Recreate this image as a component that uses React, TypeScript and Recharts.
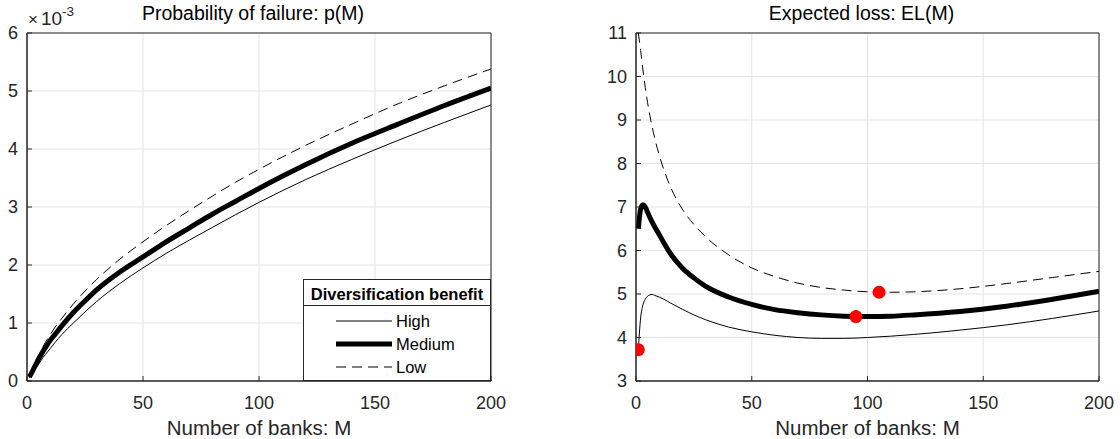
import React from "react";
import {
  CartesianGrid,
  ComposedChart,
  Label,
  Legend,
  Line,
  ReferenceArea,
  Scatter,
  XAxis,
  YAxis,
} from "recharts";

// number of banks M (shared grid for all series)
const banks = [1, 2, 3, 4, 5, 6, 7, 8, 10, 12, 15, 20, 25, 30, 40, 50, 60, 70, 80, 90, 100, 110, 120, 140, 160, 180, 200];

// p(M), in units of 1e-3
const pHigh = [0.05, 0.11, 0.17, 0.23, 0.29, 0.35, 0.41, 0.46, 0.56, 0.66, 0.8, 1.0, 1.19, 1.37, 1.68, 1.95, 2.2, 2.43, 2.65, 2.87, 3.08, 3.28, 3.47, 3.82, 4.15, 4.46, 4.76];
const pMedium = [0.07, 0.14, 0.22, 0.3, 0.38, 0.45, 0.52, 0.58, 0.7, 0.8, 0.95, 1.18, 1.38, 1.57, 1.88, 2.14, 2.4, 2.64, 2.88, 3.1, 3.32, 3.53, 3.73, 4.1, 4.43, 4.75, 5.05];
const pLow = [0.08, 0.17, 0.26, 0.35, 0.44, 0.52, 0.6, 0.67, 0.8, 0.92, 1.08, 1.33, 1.55, 1.75, 2.1, 2.4, 2.68, 2.94, 3.19, 3.43, 3.65, 3.86, 4.06, 4.43, 4.78, 5.09, 5.38];

// EL(M)
const elHigh = [3.72, 4.45, 4.75, 4.88, 4.95, 4.98, 4.99, 4.97, 4.93, 4.88, 4.79, 4.65, 4.52, 4.41, 4.24, 4.13, 4.05, 4.0, 3.98, 3.98, 4.0, 4.03, 4.07, 4.17, 4.29, 4.44, 4.61];
const elMedium = [6.5, 6.95, 7.05, 7.0, 6.88, 6.76, 6.65, 6.55, 6.37, 6.18, 5.92, 5.6, 5.37, 5.18, 4.93, 4.76, 4.64, 4.57, 4.52, 4.49, 4.48, 4.49, 4.52, 4.6, 4.72, 4.88, 5.06];
const elLow = [11.0, 10.6, 10.15, 9.75, 9.4, 9.1, 8.84, 8.6, 8.2, 7.86, 7.45, 6.95, 6.6, 6.32, 5.9, 5.6, 5.4, 5.25, 5.15, 5.09, 5.05, 5.04, 5.05, 5.12, 5.24, 5.38, 5.52];

// minima marked in red
const minBanks = [1, 95, 105];
const minLoss = [3.72, 4.48, 5.04];

const xTicks = [0, 50, 100, 150, 200];
const pTicks = [0, 1, 2, 3, 4, 5, 6];
const elTicks = [3, 4, 5, 6, 7, 8, 9, 10, 11];

const seriesNames = ["High", "Medium", "Low"];

const FONT = "'Liberation Sans', Arial, Helvetica, sans-serif";
const AXIS = "#262626";
const GRID = "#e3e3e3";

const lineStyle: Record<string, { width: number; dash?: string }> = {
  High: { width: 1 },
  Medium: { width: 5 },
  Low: { width: 1, dash: "10 6" },
};

const pRows = banks.map((m, i) => ({ m, High: pHigh[i], Medium: pMedium[i], Low: pLow[i] }));
const elRows = banks.map((m, i) => ({ m, High: elHigh[i], Medium: elMedium[i], Low: elLow[i] }));
const dots = minBanks.map((m, i) => ({ m, v: minLoss[i] }));

const tickStyle = { fill: AXIS, fontSize: 18, fontFamily: FONT };

function LegendBox() {
  return (
    <svg width={188} height={102} style={{ display: "block" }}>
      <rect x={0.5} y={0.5} width={187} height={101} fill="#fff" stroke={AXIS} />
      <text x={94} y={21} textAnchor="middle" fontSize={16.5} fontWeight="bold" fill="#000" fontFamily={FONT}>
        Diversification benefit
      </text>
      <line x1={0} x2={188} y1={26.5} y2={26.5} stroke={AXIS} />
      {seriesNames.map((name, i) => {
        const y = 42 + i * 23;
        const s = lineStyle[name];
        return (
          <g key={name}>
            <line x1={33} x2={89} y1={y} y2={y} stroke="#000" strokeWidth={s.width} strokeDasharray={s.dash} />
            <text x={93} y={y + 6} fontSize={16.5} fill="#000" fontFamily={FONT}>
              {name}
            </text>
          </g>
        );
      })}
    </svg>
  );
}

function Panel({
  rows,
  yTicks,
  yDomain,
  yWidth,
  rightMargin,
  withLegend,
  withDots,
}: {
  rows: Array<Record<string, number>>;
  yTicks: number[];
  yDomain: [number, number];
  yWidth: number;
  rightMargin: number;
  withLegend?: boolean;
  withDots?: boolean;
}) {
  return (
    <ComposedChart width={560} height={439} data={rows} margin={{ top: 33, right: rightMargin, bottom: 0, left: 0 }}>
      <CartesianGrid stroke={GRID} horizontalValues={yTicks} verticalValues={xTicks} />
      <XAxis
        dataKey="m"
        type="number"
        domain={[0, 200]}
        ticks={xTicks}
        height={58}
        stroke={AXIS}
        tickSize={-5}
        tickMargin={20}
        tick={tickStyle}
        allowDataOverflow
      >
        <Label value="Number of banks: M" position="insideBottom" offset={4} fill={AXIS} fontSize={20.5} fontFamily={FONT} />
      </XAxis>
      <YAxis
        type="number"
        domain={yDomain}
        ticks={yTicks}
        width={yWidth}
        stroke={AXIS}
        tickSize={-5}
        tickMargin={14}
        tick={tickStyle}
        allowDataOverflow
      />
      <ReferenceArea x1={0} x2={200} y1={yDomain[0]} y2={yDomain[1]} fill="none" stroke={AXIS} strokeWidth={1} ifOverflow="visible" />
      {seriesNames.map((name) => (
        <Line
          key={name}
          dataKey={name}
          type="monotone"
          stroke="#000"
          strokeWidth={lineStyle[name].width}
          strokeDasharray={lineStyle[name].dash}
          dot={false}
          activeDot={false}
          isAnimationActive={false}
        />
      ))}
      {withDots && (
        <Scatter
          data={dots}
          dataKey="v"
          isAnimationActive={false}
          shape={(p: any) => <circle cx={p.cx} cy={p.cy} r={6.5} fill="#ff0000" />}
        />
      )}
      {withLegend && (
        <Legend
          layout="horizontal"
          verticalAlign="middle"
          align="center"
          wrapperStyle={{ left: 303, top: 279, width: 188, height: 102 }}
          content={() => <LegendBox />}
        />
      )}
    </ComposedChart>
  );
}

export default function App() {
  return (
    <div style={{ position: "absolute", left: 0, top: 0, width: 1120, height: 439, background: "#fff", fontFamily: FONT }}>
      <div style={{ position: "absolute", left: 0, top: 0 }}>
        <Panel rows={pRows} yTicks={pTicks} yDomain={[0, 6]} yWidth={27} rightMargin={69} withLegend />
      </div>
      <div style={{ position: "absolute", left: 560, top: 0 }}>
        <Panel rows={elRows} yTicks={elTicks} yDomain={[3, 11]} yWidth={76} rightMargin={21} withDots />
      </div>
      <div style={{ position: "absolute", left: 28, top: 9, fontSize: 19, lineHeight: "20px", color: AXIS, whiteSpace: "nowrap" }}>
        <span style={{ fontSize: 17, marginRight: 3 }}>×</span>10
        <span style={{ fontSize: 13.5, position: "relative", top: -9 }}>-3</span>
      </div>
      <div style={{ position: "absolute", left: 21, width: 464, top: 2, textAlign: "center", fontSize: 19.5, color: "#000" }}>
        Probability of failure: p(M)
      </div>
      <div style={{ position: "absolute", left: 630, width: 463, top: 2, textAlign: "center", fontSize: 19.5, color: "#000" }}>
        Expected loss: EL(M)
      </div>
    </div>
  );
}
